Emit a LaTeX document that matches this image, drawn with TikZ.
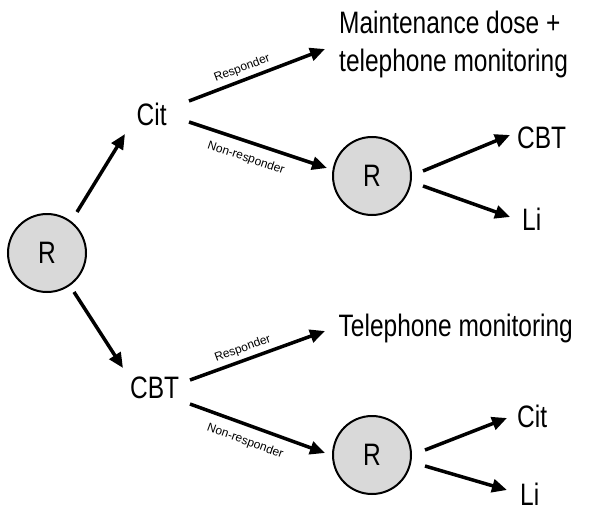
\documentclass[tikz,border=0pt]{standalone}
\usepackage{fontspec}
\setmainfont{Liberation Sans}
\newfontfamily\narrowfont{Liberation Sans}[FakeStretch=0.79]
\usetikzlibrary{arrows.meta,calc}
\definecolor{circfill}{HTML}{D9D9D9}
\tikzset{
  big/.style={font=\narrowfont\fontsize{31}{38}\selectfont, inner sep=0pt},
  rnode/.style={circle, draw=black, line width=2pt, fill=circfill, minimum size=78pt, inner sep=0pt, font=\narrowfont\fontsize{31}{34}\selectfont},
  arr/.style={line width=3.5pt, -{Triangle[length=15pt,width=13pt]}},
  lab/.style={font=\fontsize{12}{14}\selectfont, inner sep=0pt, sloped},
}
\begin{document}
\begin{tikzpicture}[x=1pt,y=-1pt]
\useasboundingbox (0,0) rectangle (599,511);
% circles
\node[rnode] (r1) at (47,253) {R};
\node[rnode] (r2) at (372,176) {R};
\node[rnode] (r3) at (372,455) {R};
% texts
\node[big, anchor=base west] (cit) at (136.5,125) {Cit};
\node[big, anchor=base west] (cbt) at (130,398) {CBT};
\node[big, anchor=north west, align=left] (maint) at (339,11) {Maintenance dose +\\telephone monitoring};
\node[big, anchor=base west] (tel) at (338.5,336) {Telephone monitoring};
\node[big, anchor=base west] (cbtR) at (517,148) {CBT};
\node[big, anchor=base west] (liR) at (522,230) {Li};
\node[big, anchor=base west] (citR) at (517,427) {Cit};
\node[big, anchor=base west] (liR2) at (520,505) {Li};
% connectors
\draw[arr] ([shift={(30,-41)}]r1.center) -- ([shift={(-11.5,9)}]cit.base west);
\draw[arr] ([shift={(27,39)}]r1.center) -- ([shift={(-7,-30)}]cbt.base west);
\draw[arr] ([shift={(52.5,-24)}]cit.base west) -- node[lab, pos=0.42, above=4pt] {Responder} ([shift={(-14,38)}]maint.north west);
\draw[arr] ([shift={(52.5,-3)}]cit.base west) -- node[lab, pos=0.45, below=9pt] {Non-responder} ([shift={(-45,-8)}]r2.center);
\draw[arr] ([shift={(51,-5)}]r2.center) -- ([shift={(-7,-13)}]cbtR.base west);
\draw[arr] ([shift={(51,10)}]r2.center) -- ([shift={(-12,-13)}]liR.base west);
\draw[arr] ([shift={(60,-18)}]cbt.base west) -- node[lab, pos=0.42, above=4pt] {Responder} ([shift={(-13.5,-5)}]tel.base west);
\draw[arr] ([shift={(60,6)}]cbt.base west) -- node[lab, pos=0.45, below=9pt] {Non-responder} ([shift={(-47,-2)}]r3.center);
\draw[arr] ([shift={(53,-5)}]r3.center) -- ([shift={(-10,-9)}]citR.base west);
\draw[arr] ([shift={(53,11)}]r3.center) -- ([shift={(-13,-15)}]liR2.base west);
\end{tikzpicture}
\end{document}
